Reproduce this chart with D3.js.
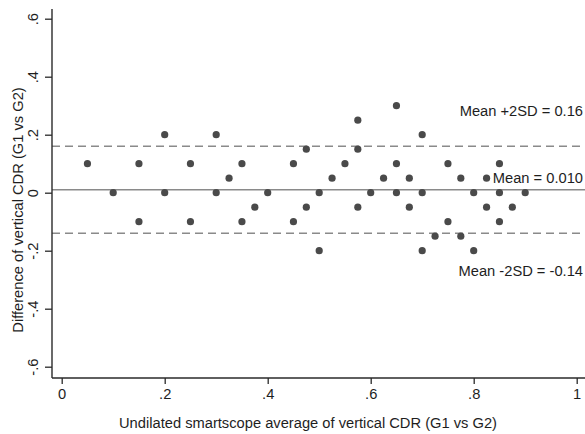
<!DOCTYPE html>
<html>
<head>
<meta charset="utf-8">
<script src="https://cdn.jsdelivr.net/npm/d3@7"></script>
<style>
  body { margin: 0; background: #fff; }
  svg { display: block; font-family: "Liberation Sans", Arial, sans-serif; }
</style>
</head>
<body>
<svg width="585" height="434"></svg>
<script>
// Chart data
var avgCDR = [0.05, 0.1, 0.15, 0.15, 0.2, 0.2, 0.25, 0.25, 0.3, 0.3, 0.325, 0.35, 0.35, 0.375, 0.4,
  0.45, 0.45, 0.475, 0.475, 0.5, 0.5, 0.525, 0.55, 0.575, 0.575, 0.575, 0.6, 0.625, 0.65, 0.65,
  0.65, 0.675, 0.675, 0.7, 0.7, 0.7, 0.725, 0.75, 0.75, 0.775, 0.775, 0.8, 0.8, 0.825, 0.825,
  0.85, 0.85, 0.85, 0.875, 0.9];
var diffCDR = [0.1, 0, 0.1, -0.1, 0.2, 0, 0.1, -0.1, 0.2, 0, 0.05, 0.1, -0.1, -0.05, 0,
  0.1, -0.1, 0.15, -0.05, 0, -0.2, 0.05, 0.1, 0.25, 0.15, -0.05, 0, 0.05, 0.3, 0.1,
  0, 0.05, -0.05, 0.2, 0, -0.2, -0.15, 0.1, -0.1, 0.05, -0.15, 0, -0.2, 0.05, -0.05,
  0.1, 0, -0.1, -0.05, 0];

var refValues = [0.16, 0.010, -0.14];
var refLabels = ["Mean +2SD = 0.16", "Mean = 0.010", "Mean -2SD = -0.14"];

var xTicks = [0, 0.2, 0.4, 0.6, 0.8, 1];
var xTickLabels = ["0", ".2", ".4", ".6", ".8", "1"];
var yTicks = [-0.6, -0.4, -0.2, 0, 0.2, 0.4, 0.6];
var yTickLabels = ["-.6", "-.4", "-.2", "0", ".2", ".4", ".6"];

var xTitle = "Undilated smartscope average of vertical CDR (G1 vs G2)";
var yTitle = "Difference of vertical CDR (G1 vs G2)";

// Layout
var svg = d3.select("svg");
var axisLeftX = 52, axisBottomY = 378, plotTop = 9, plotRight = 585;
var fontSize = 14.7;

var x = d3.scaleLinear().domain([0, 1]).range([61.7, 576.7]);
var y = d3.scaleLinear().domain([-0.6, 0.6]).range([366.7, 18.7]);

var textColor = "#1e1e1e";
var axisColor = "#2a2a2a";

// Reference lines (mean solid, +/-2SD dashed)
svg.selectAll("line.ref")
  .data(refValues)
  .enter()
  .append("line")
  .attr("class", "ref")
  .attr("x1", axisLeftX)
  .attr("x2", plotRight)
  .attr("y1", function(d) { return y(d); })
  .attr("y2", function(d) { return y(d); })
  .attr("stroke", "#8a8a8a")
  .attr("stroke-width", 1.4)
  .attr("stroke-dasharray", function(d, i) { return i === 1 ? null : "8,5"; });

// Reference labels
var labelY = [111, 178, 271];
svg.selectAll("text.ref")
  .data(refLabels)
  .enter()
  .append("text")
  .attr("class", "ref")
  .attr("x", 583)
  .attr("y", function(d, i) { return labelY[i]; })
  .attr("dy", "0.35em")
  .attr("text-anchor", "end")
  .attr("font-size", fontSize)
  .attr("fill", textColor)
  .text(function(d) { return d; });

// Points
svg.selectAll("circle")
  .data(avgCDR)
  .enter()
  .append("circle")
  .attr("cx", function(d) { return x(d); })
  .attr("cy", function(d, i) { return y(diffCDR[i]); })
  .attr("r", 3.6)
  .attr("fill", "#4a4a4a");

// X axis
var xAxis = d3.axisBottom(x)
  .tickValues(xTicks)
  .tickSize(6)
  .tickPadding(5)
  .tickFormat(function(d, i) { return xTickLabels[i]; });

var gx = svg.append("g")
  .attr("transform", "translate(0," + axisBottomY + ")")
  .call(xAxis);
gx.select(".domain").remove();
gx.selectAll("line").attr("stroke", axisColor).attr("stroke-width", 1.3);
gx.selectAll("text")
  .attr("font-size", fontSize)
  .attr("font-family", "Liberation Sans, Arial, sans-serif")
  .attr("fill", textColor);

// Y axis, labels turned like Stata's
var yAxis = d3.axisLeft(y)
  .tickValues(yTicks)
  .tickSize(7)
  .tickFormat(function(d, i) { return yTickLabels[i]; });

var gy = svg.append("g")
  .attr("transform", "translate(" + axisLeftX + ",0)")
  .call(yAxis);
gy.select(".domain").remove();
gy.selectAll("line").attr("stroke", axisColor).attr("stroke-width", 1.3);
gy.selectAll("text")
  .attr("x", 0)
  .attr("y", -14)
  .attr("dy", "0")
  .attr("transform", "rotate(-90)")
  .attr("text-anchor", "middle")
  .attr("font-size", fontSize)
  .attr("font-family", "Liberation Sans, Arial, sans-serif")
  .attr("fill", textColor);

// Axis lines
svg.append("line")
  .attr("x1", axisLeftX).attr("x2", axisLeftX)
  .attr("y1", plotTop).attr("y2", axisBottomY)
  .attr("stroke", axisColor).attr("stroke-width", 1.4);
svg.append("line")
  .attr("x1", axisLeftX).attr("x2", plotRight)
  .attr("y1", axisBottomY).attr("y2", axisBottomY)
  .attr("stroke", axisColor).attr("stroke-width", 1.4);

// Axis titles
svg.append("text")
  .attr("x", 308)
  .attr("y", 428)
  .attr("text-anchor", "middle")
  .attr("font-size", fontSize)
  .attr("fill", textColor)
  .text(xTitle);

svg.append("text")
  .attr("transform", "translate(23,210) rotate(-90)")
  .attr("text-anchor", "middle")
  .attr("font-size", fontSize)
  .attr("fill", textColor)
  .text(yTitle);
</script>
</body>
</html>
